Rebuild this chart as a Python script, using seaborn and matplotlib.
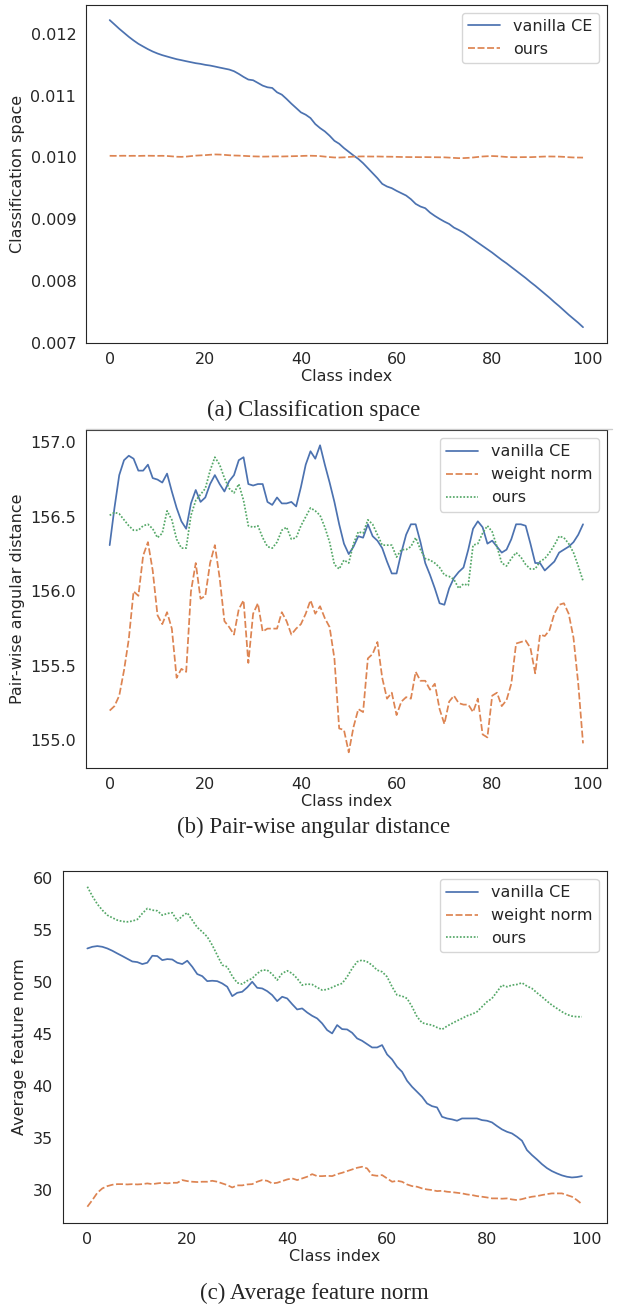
import numpy as np
import pandas as pd
import seaborn as sns
import matplotlib.pyplot as plt
from matplotlib.lines import Line2D

# (a) classification space
space_vanilla = [
    0.012222, 0.012152, 0.012081, 0.012016, 0.011951, 0.011892, 0.011838, 0.011794, 0.011751, 0.011713,
    0.011681, 0.011654, 0.011632, 0.011610, 0.011589, 0.011573, 0.011556, 0.011540, 0.011524, 0.011513,
    0.011497, 0.011486, 0.011470, 0.011453, 0.011437, 0.011421, 0.011394, 0.011351, 0.011302, 0.011259,
    0.011248, 0.011205, 0.011161, 0.011134, 0.011123, 0.011053, 0.011015, 0.010945, 0.010869, 0.010799,
    0.010728, 0.010690, 0.010636, 0.010539, 0.010474, 0.010420, 0.010350, 0.010268, 0.010220, 0.010150,
    0.010090, 0.010030, 0.009975, 0.009906, 0.009825, 0.009744, 0.009663, 0.009571, 0.009528, 0.009501,
    0.009458, 0.009420, 0.009382, 0.009323, 0.009247, 0.009204, 0.009177, 0.009106, 0.009052, 0.009004,
    0.008960, 0.008922, 0.008863, 0.008825, 0.008782, 0.008728, 0.008674, 0.008620, 0.008566, 0.008512,
    0.008458, 0.008398, 0.008339, 0.008285, 0.008225, 0.008166, 0.008106, 0.008047, 0.007982, 0.007922,
    0.007857, 0.007792, 0.007727, 0.007657, 0.007592, 0.007522, 0.007452, 0.007387, 0.007322, 0.007251]
space_ours = [
    0.010025, 0.010024, 0.010025, 0.010026, 0.010024, 0.010025, 0.010023, 0.010025, 0.010026, 0.010025,
    0.010024, 0.010025, 0.010022, 0.010016, 0.010010, 0.010008, 0.010012, 0.010020, 0.010028, 0.010032,
    0.010036, 0.010042, 0.010047, 0.010045, 0.010040, 0.010034, 0.010030, 0.010028, 0.010024, 0.010020,
    0.010016, 0.010014, 0.010012, 0.010013, 0.010015, 0.010016, 0.010014, 0.010016, 0.010018, 0.010020,
    0.010022, 0.010025, 0.010026, 0.010024, 0.010020, 0.010012, 0.010004, 0.009998, 0.009997, 0.010000,
    0.010006, 0.010012, 0.010014, 0.010015, 0.010014, 0.010013, 0.010014, 0.010012, 0.010011, 0.010010,
    0.010008, 0.010006, 0.010005, 0.010004, 0.010004, 0.010003, 0.010004, 0.010003, 0.010002, 0.010001,
    0.010000, 0.009996, 0.009991, 0.009987, 0.009988, 0.009992, 0.009998, 0.010006, 0.010014, 0.010018,
    0.010021, 0.010018, 0.010012, 0.010006, 0.010003, 0.010002, 0.010003, 0.010004, 0.010003, 0.010006,
    0.010010, 0.010013, 0.010014, 0.010013, 0.010012, 0.010008, 0.010002, 0.009998, 0.009997, 0.009996]

# (b) pair-wise angular distance
angle_vanilla = [
    156.31, 156.56, 156.78, 156.88, 156.91, 156.89, 156.81, 156.81, 156.85, 156.76,
    156.75, 156.73, 156.79, 156.67, 156.56, 156.47, 156.42, 156.59, 156.68, 156.60,
    156.63, 156.72, 156.78, 156.72, 156.67, 156.74, 156.78, 156.88, 156.90, 156.72,
    156.71, 156.72, 156.72, 156.60, 156.58, 156.63, 156.59, 156.59, 156.60, 156.57,
    156.70, 156.85, 156.94, 156.89, 156.98, 156.85, 156.73, 156.60, 156.45, 156.32,
    156.25, 156.30, 156.37, 156.36, 156.45, 156.37, 156.34, 156.29, 156.20, 156.12,
    156.12, 156.26, 156.38, 156.45, 156.45, 156.33, 156.19, 156.11, 156.02, 155.92,
    155.91, 156.02, 156.09, 156.13, 156.16, 156.28, 156.42, 156.47, 156.43, 156.32,
    156.34, 156.30, 156.26, 156.28, 156.35, 156.45, 156.45, 156.44, 156.32, 156.19,
    156.19, 156.14, 156.17, 156.20, 156.26, 156.28, 156.30, 156.33, 156.38, 156.45]
angle_wnorm = [
    155.20, 155.23, 155.30, 155.47, 155.68, 156.00, 155.97, 156.24, 156.33, 156.14,
    155.84, 155.78, 155.86, 155.75, 155.42, 155.48, 155.46, 156.00, 156.19, 155.95,
    155.97, 156.19, 156.31, 156.09, 155.80, 155.76, 155.71, 155.88, 155.94, 155.52,
    155.85, 155.92, 155.73, 155.75, 155.75, 155.75, 155.86, 155.80, 155.71, 155.75,
    155.78, 155.85, 155.94, 155.85, 155.90, 155.82, 155.76, 155.55, 155.08, 155.07,
    154.92, 155.09, 155.21, 155.19, 155.55, 155.58, 155.66, 155.42, 155.28, 155.32,
    155.17, 155.26, 155.29, 155.28, 155.46, 155.40, 155.40, 155.34, 155.38, 155.21,
    155.11, 155.26, 155.30, 155.25, 155.24, 155.24, 155.19, 155.28, 155.04, 155.02,
    155.30, 155.32, 155.23, 155.27, 155.38, 155.65, 155.66, 155.67, 155.62, 155.45,
    155.71, 155.70, 155.74, 155.85, 155.91, 155.92, 155.85, 155.69, 155.38, 154.98]
angle_ours = [
    156.51, 156.53, 156.52, 156.48, 156.44, 156.41, 156.41, 156.44, 156.45, 156.42,
    156.36, 156.39, 156.54, 156.48, 156.35, 156.29, 156.29, 156.51, 156.61, 156.65,
    156.69, 156.81, 156.90, 156.85, 156.76, 156.69, 156.66, 156.72, 156.61, 156.44,
    156.43, 156.44, 156.36, 156.30, 156.29, 156.33, 156.41, 156.43, 156.35, 156.36,
    156.44, 156.50, 156.56, 156.54, 156.51, 156.43, 156.33, 156.18, 156.15, 156.21,
    156.19, 156.32, 156.40, 156.39, 156.48, 156.45, 156.38, 156.31, 156.31, 156.31,
    156.23, 156.28, 156.28, 156.30, 156.36, 156.28, 156.22, 156.21, 156.19, 156.16,
    156.11, 156.10, 156.08, 156.02, 156.05, 156.04, 156.31, 156.32, 156.39, 156.44,
    156.40, 156.30, 156.19, 156.17, 156.22, 156.26, 156.23, 156.18, 156.15, 156.15,
    156.20, 156.22, 156.26, 156.31, 156.37, 156.36, 156.32, 156.26, 156.17, 156.07]

# (c) average feature norm
norm_vanilla = [
    53.21, 53.37, 53.44, 53.37, 53.21, 52.99, 52.73, 52.48, 52.22, 51.96,
    51.90, 51.71, 51.84, 52.51, 52.48, 52.09, 52.19, 52.15, 51.84, 51.71,
    52.03, 51.45, 50.75, 50.55, 50.07, 50.11, 50.07, 49.85, 49.53, 48.63,
    48.95, 49.05, 49.47, 50.01, 49.43, 49.37, 49.11, 48.73, 48.15, 48.57,
    48.41, 47.86, 47.35, 47.45, 47.06, 46.74, 46.49, 46.01, 45.37, 45.05,
    45.85, 45.46, 45.43, 45.11, 44.57, 44.34, 44.02, 43.70, 43.70, 43.93,
    43.03, 42.55, 41.84, 41.36, 40.50, 39.92, 39.44, 38.96, 38.32, 38.06,
    37.94, 37.04, 36.88, 36.79, 36.66, 36.88, 36.88, 36.88, 36.88, 36.72,
    36.66, 36.50, 36.15, 35.83, 35.60, 35.44, 35.12, 34.74, 33.84, 33.36,
    32.94, 32.49, 32.11, 31.82, 31.60, 31.41, 31.28, 31.21, 31.25, 31.34]
norm_wnorm = [
    28.40, 29.04, 29.74, 30.16, 30.38, 30.51, 30.57, 30.57, 30.54, 30.57,
    30.54, 30.57, 30.64, 30.57, 30.64, 30.70, 30.64, 30.70, 30.70, 30.96,
    30.86, 30.80, 30.77, 30.80, 30.80, 30.89, 30.80, 30.64, 30.48, 30.25,
    30.45, 30.45, 30.54, 30.57, 30.80, 30.96, 30.89, 30.64, 30.70, 30.86,
    31.02, 31.12, 30.96, 31.12, 31.28, 31.53, 31.34, 31.34, 31.37, 31.34,
    31.53, 31.66, 31.82, 31.98, 32.14, 32.24, 32.08, 31.44, 31.37, 31.44,
    31.12, 30.80, 30.89, 30.80, 30.54, 30.38, 30.32, 30.16, 30.06, 30.00,
    29.90, 29.93, 29.84, 29.80, 29.74, 29.68, 29.58, 29.52, 29.42, 29.36,
    29.29, 29.20, 29.20, 29.17, 29.20, 29.10, 29.04, 29.13, 29.26, 29.36,
    29.42, 29.52, 29.61, 29.68, 29.68, 29.68, 29.52, 29.36, 29.04, 28.65]
norm_ours = [
    59.14, 58.24, 57.47, 56.89, 56.41, 56.16, 55.93, 55.81, 55.77, 55.84,
    56.00, 56.57, 57.05, 56.89, 56.83, 56.41, 56.57, 56.64, 55.87, 56.32,
    56.64, 55.93, 55.23, 54.81, 54.33, 53.53, 52.57, 51.61, 51.45, 50.55,
    49.91, 49.79, 50.11, 50.33, 50.81, 51.13, 51.13, 50.75, 50.17, 50.81,
    51.07, 50.81, 50.33, 49.69, 49.79, 49.75, 49.47, 49.21, 49.27, 49.47,
    49.69, 49.85, 50.49, 51.29, 51.93, 52.09, 51.93, 51.61, 51.13, 50.97,
    50.49, 49.53, 48.73, 48.63, 48.41, 47.61, 46.65, 46.07, 45.94, 45.85,
    45.62, 45.43, 45.75, 46.01, 46.26, 46.49, 46.74, 46.90, 47.13, 47.61,
    48.09, 48.41, 49.05, 49.69, 49.53, 49.69, 49.75, 49.91, 49.59, 49.37,
    48.95, 48.57, 48.15, 47.77, 47.45, 47.13, 46.87, 46.71, 46.65, 46.65]

class_idx = np.arange(100)


def long_df(series):
    frames = []
    for name, vals in series:
        frames.append(pd.DataFrame({"Class index": class_idx, "value": vals, "method": name}))
    return pd.concat(frames, ignore_index=True)


sns.set_style("white")
plt.rcParams["font.family"] = ["DejaVu Sans"]

fig = plt.figure(figsize=(6.17, 13.08), dpi=100)
ax_a = fig.add_axes([0.1394, 0.7380, 0.8439, 0.2584])
ax_b = fig.add_axes([0.1394, 0.4131, 0.8439, 0.2582])
ax_c = fig.add_axes([0.1015, 0.0652, 0.8817, 0.2691])

panels = [
    (ax_a, [("vanilla CE", space_vanilla), ("ours", space_ours)], "Classification space"),
    (ax_b, [("vanilla CE", angle_vanilla), ("weight norm", angle_wnorm), ("ours", angle_ours)],
     "Pair-wise angular distance"),
    (ax_c, [("vanilla CE", norm_vanilla), ("weight norm", norm_wnorm), ("ours", norm_ours)],
     "Average feature norm"),
]

fs = 11.5
for ax, series, ylab in panels:
    df = long_df(series)
    sns.lineplot(data=df, x="Class index", y="value", hue="method", style="method",
                 palette="deep", linewidth=1.25, ax=ax)
    ax.set_xlabel("Class index", fontsize=fs, labelpad=1)
    ax.set_ylabel(ylab, fontsize=fs)
    ax.tick_params(labelsize=fs)
    ax.set_xticks([0, 20, 40, 60, 80, 100])
    for s in ax.spines.values():
        s.set_color("#262626")
    h, l = ax.get_legend_handles_labels()
    ax.legend(h, l, loc="upper right", fontsize=fs)

ax_a.set_yticks([0.007, 0.008, 0.009, 0.010, 0.011, 0.012])
ax_a.set_yticklabels(["0.007", "0.008", "0.009", "0.010", "0.011", "0.012"])

cap_font = {"family": "Liberation Serif", "size": 16.5}
fig.text(0.509, 1 - 410 / 1308, "(a) Classification space", ha="center", va="center", **cap_font)
fig.text(0.509, 1 - 827 / 1308, "(b) Pair-wise angular distance", ha="center", va="center", **cap_font)
fig.text(0.509, 1 - 1293 / 1308, "(c) Average feature norm", ha="center", va="center", **cap_font)
fig.add_artist(Line2D([0.139, 0.992], [1 - 429 / 1308] * 2, color="#cccccc", lw=1))

fig.savefig("out.png", dpi=100)
